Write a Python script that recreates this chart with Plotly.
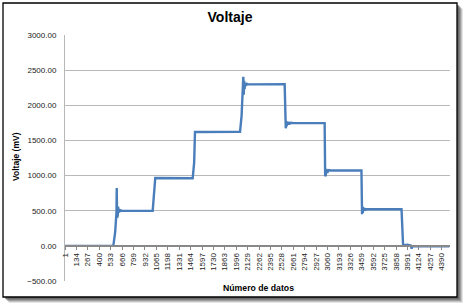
import plotly.graph_objects as go

# Vertex samples (data index, voltage mV)
idx = [1, 563, 585, 592, 600, 603, 607, 611, 615, 619, 624, 630, 638, 650, 665,
       1022, 1035, 1042, 1052,
       1488, 1500, 1505, 1515,
       2040, 2058, 2070, 2078, 2083, 2088, 2093, 2100, 2108, 2120, 2135,
       2560, 2566, 2570, 2573, 2578, 2583, 2590, 2598, 2608, 2620, 2635, 2650,
       3026, 3032, 3036, 3040, 3045, 3051, 3058, 3067, 3078, 3095,
       3455, 3462, 3466, 3471, 3477, 3484, 3492, 3502, 3515,
       3922, 3930, 3940, 3950, 3990, 4030, 4040, 4048, 4480]
volt = [0, 0, 200, 300, 480, 824, 400, 650, 430, 560, 470, 525, 490, 505, 498,
        500, 700, 870, 965,
        962, 1080, 1180, 1620,
        1622, 1850, 2100, 2405, 2150, 2350, 2230, 2320, 2280, 2305, 2298,
        2300, 1700, 1780, 1672, 1775, 1700, 1765, 1725, 1758, 1740, 1752, 1748,
        1746, 990, 1100, 1010, 1095, 1040, 1085, 1060, 1078, 1073,
        1073, 450, 560, 470, 545, 500, 530, 515, 522,
        520, 300, 20, 10, 15, 5, -40, -5, -8]

x_ticks = list(range(1, 4391, 133))
y_ticks = [-500, 0, 500, 1000, 1500, 2000, 2500, 3000]

fig = go.Figure()
fig.add_trace(go.Scatter(x=idx, y=volt, mode="lines",
                         line=dict(color="#4a7ebb", width=2.4), hoverinfo="skip"))

# frame with shadow (paper coords relative to plot area)
px0, px1 = 65, 450
py0, py1 = 281, 35
def fx(p): return (p - px0) / (px1 - px0)
def fy(p): return (py0 - p) / (py0 - py1)

shapes = []
for k, op in [(6, 0.15), (5, 0.25), (4, 0.35), (3, 0.45), (2, 0.55)]:
    shapes.append(dict(type="rect", xref="paper", yref="paper", layer="below",
                       x0=fx(3 + k), x1=fx(457 + k), y0=fy(297 + k), y1=fy(3 + k),
                       fillcolor=f"rgba(90,90,90,{op})", line=dict(width=0)))
shapes.append(dict(type="rect", xref="paper", yref="paper", layer="below",
                   x0=fx(3), x1=fx(457), y0=fy(297), y1=fy(3),
                   fillcolor="white", line=dict(color="black", width=1.3)))

fig.update_layout(
    width=467, height=308,
    margin=dict(l=65, r=17, t=35, b=27),
    paper_bgcolor="white", plot_bgcolor="rgba(0,0,0,0)",
    showlegend=False,
    shapes=shapes,
    font=dict(family="Liberation Sans, Arial, sans-serif", color="#222"),
    title=dict(text="<b>Voltaje</b>", x=230 / 467, xanchor="center",
               y=1 - 17 / 308, yanchor="middle", font=dict(size=14, color="black")),
    xaxis=dict(range=[0, 4487], tickmode="array", tickvals=x_ticks,
               ticktext=[str(v) for v in x_ticks], tickangle=-90,
               tickfont=dict(size=8, color="#222"),
               anchor="free", position=500 / 3500,
               showgrid=False, zeroline=False,
               showline=True, linecolor="#888888", linewidth=2,
               ticks="outside", ticklen=3, tickcolor="#888888"),
    yaxis=dict(range=[-500, 3000], tickmode="array", tickvals=y_ticks,
               tickformat=".2f", tickfont=dict(size=8, color="#1a1a1a"),
               showgrid=True, gridcolor="#b8b8b8", gridwidth=1,
               zeroline=False, showline=True, linecolor="#b8b8b8", linewidth=1,
               ticks="", ticklabelstandoff=6),
    annotations=[
        dict(text="<b>Voltaje (mV)</b>", xref="paper", yref="paper",
             x=fx(16), y=fy(157), textangle=-90, showarrow=False,
             xanchor="center", yanchor="middle", font=dict(size=8.5, color="black")),
        dict(text="<b>Número de datos</b>", xref="paper", yref="paper",
             x=fx(258), y=fy(288), showarrow=False,
             xanchor="center", yanchor="middle", font=dict(size=8.7, color="black")),
    ],
)

fig.write_html("out.html", config={"displayModeBar": False},
               post_script="document.body.style.margin='0';document.body.style.padding='0';")
